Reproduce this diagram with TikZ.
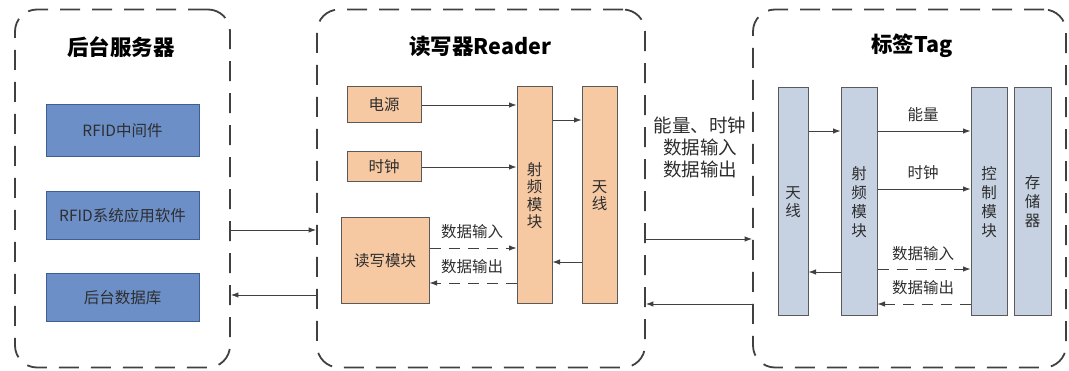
\documentclass[tikz,border=0pt]{standalone}
\usepackage{fontspec}
\setmainfont{Noto Sans CJK SC}
\usetikzlibrary{arrows.meta}
\definecolor{panelc}{HTML}{404040}
\definecolor{bluef}{HTML}{6C8FC8}
\definecolor{blued}{HTML}{3F5F94}
\definecolor{orf}{HTML}{F6C9A3}
\definecolor{gryf}{HTML}{C6D2E2}
\definecolor{edgec}{HTML}{5A5A5A}
\definecolor{txtc}{HTML}{2E2E2E}
\tikzset{
  panel/.style={draw=panelc, line width=1.8pt, dash pattern=on 20pt off 12pt, rounded corners=22pt, inner sep=0pt},
  ptitle/.style={font=\fontsize{21.5}{25}\selectfont\bfseries, text=black},
  bbox/.style={draw=blued, fill=bluef, line width=1pt, inner sep=0pt, font=\fontsize{15.5}{18}\selectfont, text=txtc},
  obox/.style={draw=edgec, fill=orf, line width=1pt, inner sep=0pt, font=\fontsize{15.5}{18}\selectfont, text=txtc, align=center},
  gbox/.style={draw=edgec, fill=gryf, line width=1pt, inner sep=0pt, font=\fontsize{15.5}{18}\selectfont, text=txtc, align=center},
  lbl/.style={font=\fontsize{15.5}{18}\selectfont, text=txtc, inner sep=0pt},
  conn/.style={draw=panelc, line width=0.9pt, -{Latex[length=7.5pt,width=5.5pt]}},
  dconn/.style={conn, dash pattern=on 11pt off 8pt},
}
\begin{document}
\begin{tikzpicture}[x=1pt,y=-1pt]
\useasboundingbox (0,0) rectangle (1069,371);
% panels
\node[panel, minimum width=215pt, minimum height=358pt] (srv) at (122.5,188.5) {};
\node[panel, minimum width=328pt, minimum height=358pt] (rdr) at (481,188.5) {};
\node[panel, minimum width=313pt, minimum height=358pt] (tag) at (909.5,188.5) {};
\node[ptitle] (t1) at (121,47) {后台服务器};
\node[ptitle] (t2) at (480,46) {读写器Reader};
\node[ptitle] (t3) at (912,46) {标签Tag};
% server boxes
\node[bbox, minimum width=153pt, minimum height=52pt] (mw) at (122.5,131) {RFID中间件};
\node[bbox, minimum width=153pt, minimum height=48pt] (app) at (122.5,215.5) {RFID系统应用软件};
\node[bbox, minimum width=153pt, minimum height=48pt] (db) at (122.5,298) {后台数据库};
% reader boxes
\node[obox, minimum width=74pt, minimum height=36pt] (pw) at (384,105) {电源};
\node[obox, minimum width=74pt, minimum height=30pt] (ck) at (384,167) {时钟};
\node[obox, minimum width=88pt, minimum height=86pt] (rw) at (385,261) {读写模块};
\node[obox, minimum width=35pt, minimum height=217pt, font=\fontsize{15.5}{17.5}\selectfont] (rf) at (534.5,195.5) {射\\频\\模\\块};
\node[obox, minimum width=35pt, minimum height=217pt, font=\fontsize{15.5}{17.5}\selectfont] (an) at (599.5,195.5) {天\\线};
% tag boxes
\node[gbox, minimum width=30pt, minimum height=228pt, font=\fontsize{15.5}{17.5}\selectfont] (tan) at (793,202) {天\\线};
\node[gbox, minimum width=36pt, minimum height=228pt, font=\fontsize{15.5}{19}\selectfont] (trf) at (859,202) {射\\频\\模\\块};
\node[gbox, minimum width=36pt, minimum height=228pt, font=\fontsize{15.5}{19}\selectfont] (tct) at (989,202) {控\\制\\模\\块};
\node[gbox, minimum width=37pt, minimum height=228pt, font=\fontsize{15.5}{19}\selectfont] (tmem) at (1032.5,202) {存\\储\\器};
% server <-> reader
\draw[conn] (srv.east |- 0,230) -- (rdr.west |- 0,230);
\draw[conn] (rdr.west |- 0,295) -- (srv.east |- 0,295);
% reader internal
\draw[conn] (pw.east) -- (rf.west |- pw.east);
\draw[conn] (ck.east) -- (rf.west |- ck.east);
\draw[conn] (rf.east |- 0,120) -- (an.west |- 0,120);
\draw[conn] (an.west |- 0,262) -- (rf.east |- 0,262);
\draw[dconn] (rw.east |- 0,248) -- (rf.west |- 0,248);
\draw[dconn] (rf.west |- 0,283) -- (rw.east |- 0,283);
\node[lbl] (l1) at (472,232) {数据输入};
\node[lbl] (l2) at (472,267) {数据输出};
% reader <-> tag
\draw[conn] (rdr.east |- 0,239) -- (tag.west |- 0,239);
\draw[conn] (tag.west |- 0,304) -- (rdr.east |- 0,304);
\node[font=\fontsize{18.5}{22}\selectfont, text=txtc, align=center, inner sep=0pt] (l3) at (700,147) {能量、时钟\\数据输入\\数据输出};
% tag internal
\draw[conn] (tan.east |- 0,131) -- (trf.west |- 0,131);
\draw[conn] (trf.east |- 0,131) -- (tct.west |- 0,131);
\draw[conn] (trf.east |- 0,189) -- (tct.west |- 0,189);
\draw[conn] (trf.west |- 0,272) -- (tan.east |- 0,272);
\draw[dconn] (trf.east |- 0,269) -- (tct.west |- 0,269);
\draw[dconn] (tct.west |- 0,304) -- (trf.east |- 0,304);
\node[lbl] (l4) at (923,115) {能量};
\node[lbl] (l5) at (923,173) {时钟};
\node[lbl] (l6) at (923,254) {数据输入};
\node[lbl] (l7) at (923,288) {数据输出};
\end{tikzpicture}
\end{document}
